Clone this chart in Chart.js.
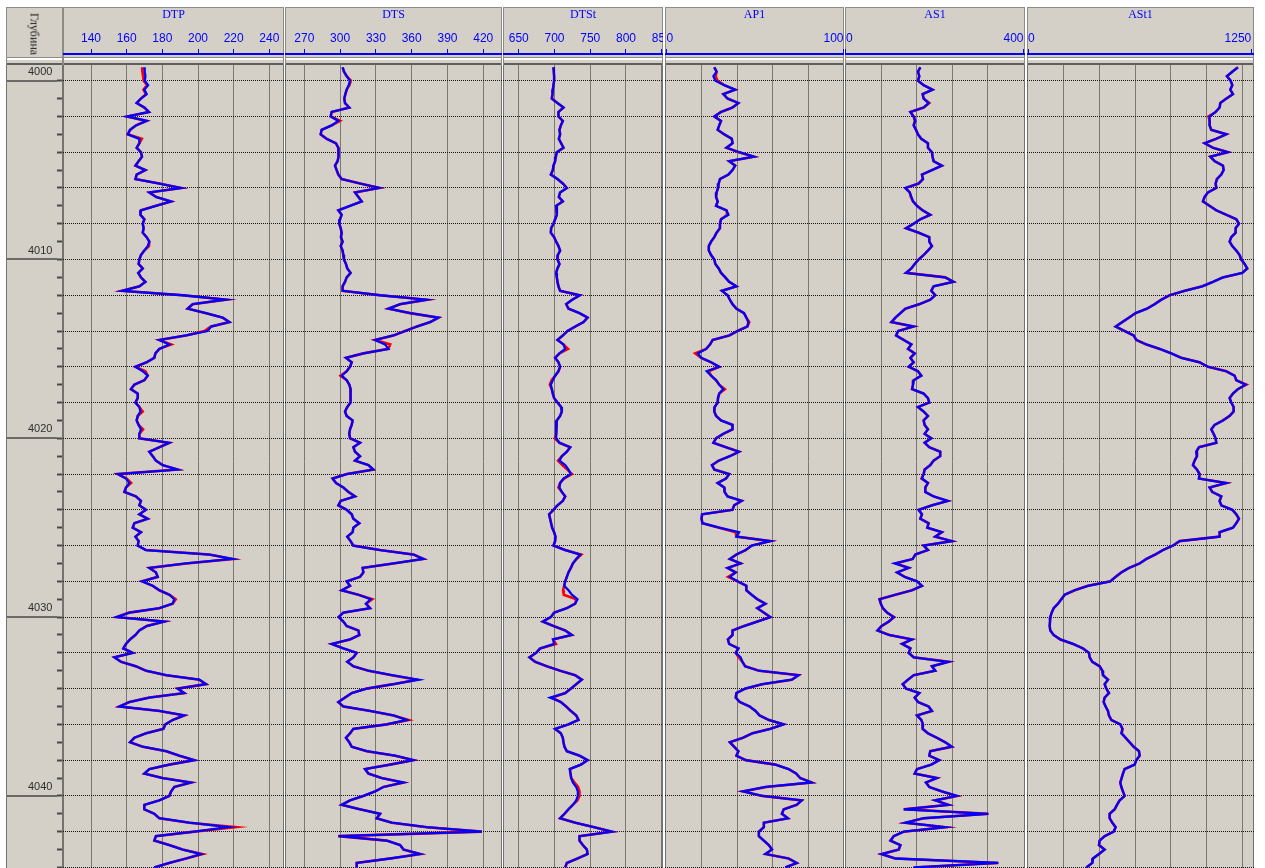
<!DOCTYPE html>
<html lang="ru">
<head>
<meta charset="utf-8">
<title>Каротаж 4000–4044 м</title>
<script src="https://cdn.jsdelivr.net/npm/chart.js@4.4.1/dist/chart.umd.min.js"></script>
<style>
  html, body { margin: 0; padding: 0; background: #ffffff; }
  #log { position: relative; width: 1265px; height: 868px; overflow: hidden; background: #ffffff; }
  .head, .body, .band { position: absolute; box-sizing: border-box; }
  .head { top: 7px; height: 51px; background: #d4d0c8; border: 1px solid #8d8b86; }
  .body { top: 60px; height: 820px; background: #d4d0c8;
          border-left: 1px solid #74726d; border-right: 1px solid #74726d; }
  .band { top: 55px; height: 10px; z-index: 3;
          border-left: 1px solid #8d8b86; border-right: 1px solid #8d8b86;
          background: linear-gradient(#d4d0c8 0 2px, #8d8b86 2px 3px, #ffffff 3px 5px,
                                      #d4d0c8 5px 8px, #5f5e5a 8px 10px); }
  canvas { position: absolute; top: 0; z-index: 2; }
  #depthTitle { position: absolute; left: 34px; top: 34px; z-index: 4; white-space: nowrap;
                transform: translate(-50%, -50%) rotate(90deg);
                font: 12px 'Liberation Serif', 'DejaVu Serif', serif; color: #222; }
</style>
</head>
<body>
<div id="log"><div id="depthTitle">Глубина</div></div>
<script>
// Depth sampling of the curves (m)
const depthStart = 3999.25;
const depthStep = 0.25;
// Visible depth window of the tracks (m)
const viewTop = 3998.507;
const viewBottom = 4044.032;

// Scale ticks
const dtpTicks  = [140, 160, 180, 200, 220, 240];
const dtsTicks  = [270, 300, 330, 360, 390, 420];
const dtstTicks = [650, 700, 750, 800, 850];
const ap1Marks  = [0, 100];
const ap1Grid   = [20, 40, 60, 80];
const as1Marks  = [0, 400];
const as1Grid   = [80, 160, 240, 320];
const ast1Marks = [0, 1250];
const ast1Grid  = [200, 400, 600, 800, 1000, 1200];
const depthLabelStep = 10;
const depthTickStep = 1;
const depthGridStep = 2;

// DTP
const dtpBlue = [
  169.9, 170.1, 170.5,
  170.1, 172.0, 169.9, 171.2,  168.0, 165.6, 169.9, 172.5,  160.2, 171.2, 165.2, 161.9,  160.6, 167.1, 167.1, 165.6,
  168.0, 168.6, 166.7, 164.9,  170.5, 165.6, 164.9, 178.3,  190.5, 172.7, 176.4, 184.9,  176.4, 168.0, 167.7, 169.9,
  169.0, 169.5, 169.0, 171.2,  172.7, 171.8, 169.9, 168.0,  167.1, 166.7, 169.0, 166.5,  168.0, 170.5, 167.1, 157.4,
  191.4, 215.7, 197.0, 194.2,  204.5, 213.8, 217.6, 207.3,  205.4, 193.3, 178.3, 183.9,  178.3, 176.1, 175.5, 171.2,
  164.9, 169.0, 171.8, 169.9,  164.3, 162.4, 166.2, 166.2,  164.9, 167.1, 167.7, 166.2,  165.6, 166.7, 168.0, 167.1,
  167.1, 183.9, 178.3, 172.7,  174.6, 176.4, 180.2, 188.6,  155.0, 159.6, 161.5, 159.6,  158.7, 165.2, 168.0, 167.1,
  170.8, 167.1, 171.8, 164.3,  163.4, 168.0, 164.9, 166.7,  166.2, 170.8, 206.4, 219.4,  193.3, 172.7, 176.4, 177.4,
  168.6, 174.6, 178.3, 183.9,  186.7, 185.8, 178.3, 161.5,  154.4, 181.1, 171.2, 167.1,  164.9, 161.9, 159.6, 158.1,
  163.4, 153.1, 156.8, 165.2,  170.8, 182.1, 200.7, 204.5,  188.6, 192.3, 172.7, 161.5,  155.9, 178.3, 192.3, 185.8,
  181.7, 180.6, 170.8, 164.3,  161.9, 169.0, 182.1, 189.5,  197.9, 183.9, 172.7, 169.9,  180.2, 196.1, 186.7, 184.9,
  183.9, 178.3, 169.9, 169.9,  175.5, 178.3, 195.1, 217.0,  198.0, 176.4, 175.5, 183.9,  191.4, 201.7, 193.3, 183.9,
  175.5
];
const dtpRed = [
  168.6, 168.8, 169.2,
  169.5, 171.5, 169.4, 170.8,  168.0, 165.6, 169.9, 172.5,  160.2, 171.2, 165.2, 161.9,  160.6, 168.5, 167.1, 165.6,
  168.0, 168.6, 166.7, 164.9,  170.5, 165.6, 164.9, 178.3,  190.5, 172.7, 176.4, 184.9,  176.4, 168.0, 167.7, 169.9,
  169.0, 169.5, 169.0, 171.2,  172.7, 172.5, 169.9, 168.0,  167.1, 166.7, 169.0, 166.5,  168.0, 170.5, 167.1, 157.4,
  191.4, 215.7, 197.0, 194.2,  204.5, 213.8, 217.6, 207.3,  203.5, 193.3, 178.3, 185.0,  178.3, 176.1, 175.5, 171.2,
  164.9, 170.5, 171.8, 169.9,  164.3, 162.4, 166.2, 166.2,  164.9, 167.1, 169.0, 166.2,  165.6, 166.7, 169.2, 167.1,
  167.1, 183.9, 178.3, 172.7,  174.6, 176.4, 180.2, 188.6,  155.0, 160.0, 162.5, 159.6,  158.7, 165.2, 168.0, 167.1,
  170.8, 167.1, 171.8, 164.3,  163.4, 168.0, 164.9, 166.7,  166.2, 170.8, 206.4, 219.4,  193.3, 172.7, 176.4, 177.4,
  168.6, 174.6, 178.3, 183.9,  187.5, 185.8, 178.3, 161.5,  154.4, 181.1, 171.2, 167.1,  164.9, 161.9, 159.6, 158.1,
  163.4, 153.1, 156.8, 165.2,  170.8, 182.1, 200.7, 204.5,  188.6, 192.3, 172.7, 161.5,  155.9, 178.3, 192.3, 185.8,
  181.7, 180.6, 170.8, 164.3,  161.9, 169.0, 182.1, 189.5,  197.9, 183.9, 172.7, 169.9,  180.2, 196.1, 186.7, 184.9,
  183.9, 178.3, 169.9, 169.9,  175.5, 178.3, 195.1, 221.0,  198.0, 176.4, 175.5, 183.9,  191.4, 202.5, 193.3, 183.9,
  175.5
];

// DTS
const dtsBlue = [
  302.1, 303.3, 305.5,
  308.3, 307.2, 305.5, 304.4,  303.5, 304.1, 307.7, 292.9,  292.1, 298.5, 292.9, 284.5,  283.7, 288.7, 296.5, 298.5,
  298.8, 298.5, 297.9, 295.7,  297.1, 298.5, 301.3, 316.7,  332.9, 312.5, 315.3, 318.1,  308.3, 298.5, 301.3, 299.9,
  299.3, 300.5, 301.3, 300.7,  302.1, 300.5, 302.1, 302.7,  303.2, 304.9, 306.0, 308.8,  305.5, 304.1, 302.1, 302.1,
  333.5, 372.7, 350.3, 340.5,  358.7, 382.5, 375.5, 364.3,  354.5, 344.7, 329.3, 337.7,  340.5, 319.5, 304.9, 309.7,
  308.3, 305.5, 301.3, 305.5,  307.7, 308.8, 309.1, 308.3,  308.8, 306.0, 304.1, 305.5,  310.5, 309.7, 308.3, 307.7,
  308.3, 316.7, 311.1, 312.5,  316.7, 312.5, 323.7, 327.9,  305.5, 293.7, 296.5, 302.7,  306.9, 312.5, 300.5, 298.5,
  305.5, 309.7, 311.1, 316.1,  311.1, 310.5, 306.0, 308.8,  311.1, 333.5, 361.5, 369.9,  344.7, 318.9, 319.5, 316.7,
  305.5, 308.3, 301.3, 315.3,  325.6, 321.7, 325.1, 302.7,  298.8, 302.7, 305.5, 315.3,  316.1, 308.3, 292.9, 302.7,
  313.9, 311.1, 306.0, 311.1,  323.7, 343.3, 365.7, 344.7,  322.3, 309.7, 304.1, 298.5,  302.7, 325.1, 344.7, 355.9,
  339.1, 311.1, 308.3, 304.9,  307.7, 309.7, 322.3, 346.1,  361.5, 341.9, 320.9, 323.7,  334.9, 353.1, 336.3, 329.3,
  319.5, 308.3, 301.3, 316.7,  333.5, 330.7, 343.3, 372.7,  418.8, 298.5, 339.1, 350.3,  353.1, 367.1, 341.9, 313.9,
  313.9
];
const dtsRed = [
  302.1, 303.3, 305.5,
  309.0, 307.8, 305.5, 304.4,  303.5, 304.1, 307.7, 292.9,  292.1, 300.0, 292.9, 284.5,  283.7, 288.7, 296.5, 298.5,
  298.8, 298.5, 297.9, 295.7,  297.1, 298.5, 301.3, 316.7,  332.9, 312.5, 315.3, 318.1,  308.3, 298.5, 301.3, 299.9,
  299.3, 300.5, 301.3, 300.7,  302.1, 300.5, 302.1, 302.7,  303.2, 304.9, 306.0, 308.8,  305.5, 304.1, 302.1, 302.1,
  333.5, 372.7, 350.3, 340.5,  358.7, 382.5, 375.5, 364.3,  354.5, 344.7, 329.3, 342.0,  340.5, 319.5, 304.9, 309.7,
  308.3, 305.5, 300.3, 305.5,  307.7, 308.8, 309.1, 308.3,  308.8, 306.0, 304.1, 305.5,  310.5, 309.7, 308.3, 307.7,
  308.3, 316.7, 311.1, 312.5,  316.7, 312.5, 323.7, 327.9,  305.5, 293.7, 296.5, 302.7,  306.9, 312.5, 300.5, 298.5,
  305.5, 309.7, 311.1, 316.1,  311.1, 310.5, 306.0, 308.8,  311.1, 333.5, 361.5, 369.9,  344.7, 318.9, 319.5, 316.7,
  305.5, 308.3, 301.3, 315.3,  327.0, 321.7, 325.1, 302.7,  298.8, 302.7, 305.5, 315.3,  316.1, 308.3, 292.9, 302.7,
  313.9, 311.1, 306.0, 311.1,  323.7, 343.3, 364.0, 344.7,  322.3, 309.7, 304.1, 298.5,  302.7, 325.1, 344.7, 357.5,
  339.1, 311.1, 308.3, 304.9,  307.7, 309.7, 322.3, 346.1,  361.5, 341.9, 320.9, 323.7,  334.9, 353.1, 336.3, 329.3,
  319.5, 308.3, 301.3, 316.7,  333.5, 330.7, 343.3, 372.7,  418.8, 298.5, 339.1, 350.3,  353.1, 367.1, 341.9, 313.9,
  313.9
];

// DTSt
const dtstBlue = [
  698.6, 699.1, 699.5,
  699.5, 698.6, 697.7, 697.2,  696.3, 704.2, 712.6, 705.6,  705.6, 711.7, 708.9, 707.0,  707.9, 706.1, 709.3, 712.6,
  703.3, 701.9, 700.9, 698.6,  697.7, 694.9, 704.2, 711.7,  717.3, 707.9, 706.1, 711.7,  702.3, 703.3, 703.3, 700.9,
  698.6, 695.3, 694.9, 699.5,  702.3, 705.6, 707.9, 704.7,  704.2, 707.0, 704.2, 702.3,  703.3, 704.2, 705.6, 707.9,
  735.5, 724.8, 716.4, 719.6,  735.0, 746.3, 740.7, 729.0,  718.2, 711.7, 704.2, 712.6,  714.9, 707.0, 700.9, 705.6,
  707.9, 705.6, 700.9, 697.7,  694.9, 696.3, 697.7, 699.5,  704.2, 709.3, 710.3, 707.9,  703.3, 702.3, 702.3, 702.3,
  702.3, 707.0, 722.0, 717.3,  710.3, 707.0, 715.0, 719.6,  722.9, 712.6, 707.9, 707.0,  710.3, 715.0, 711.7, 704.2,
  698.6, 692.5, 693.9, 695.3,  696.7, 699.5, 701.4, 700.9,  698.6, 715.0, 736.0, 730.4,  725.7, 722.9, 719.6, 717.3,
  715.0, 713.6, 719.6, 724.3,  732.2, 728.9, 717.3, 699.5,  694.9, 683.6, 698.6, 715.0,  724.3, 698.1, 699.5, 679.9,
  674.3, 665.0, 672.9, 689.3,  708.0, 729.0, 738.3, 730.4,  722.9, 715.0, 693.9, 708.9,  716.4, 722.9, 730.4, 733.6,
  719.6, 700.9, 708.9, 711.7,  712.6, 714.0, 717.3, 735.0,  746.3, 736.9, 721.5, 722.4,  723.4, 725.7, 730.4, 732.7,
  732.7, 730.4, 725.7, 719.6,  714.0, 707.9, 729.0, 754.7,  780.4, 735.0, 735.0, 739.7,  745.3, 746.3, 732.2, 717.3,
  715.0
];
const dtstRed = [
  698.6, 699.1, 699.5,
  699.5, 698.6, 697.7, 697.2,  696.3, 704.2, 712.6, 705.6,  705.6, 711.7, 708.9, 707.0,  707.9, 706.1, 709.3, 712.6,
  703.3, 701.9, 700.9, 698.6,  697.7, 694.9, 704.2, 711.7,  717.3, 707.9, 706.1, 711.7,  702.3, 703.3, 703.3, 700.9,
  698.6, 695.3, 694.9, 699.5,  702.3, 705.6, 707.9, 704.7,  704.2, 707.0, 704.2, 702.3,  703.3, 704.2, 705.6, 707.9,
  735.5, 724.8, 716.4, 719.6,  735.0, 746.3, 740.7, 729.0,  718.2, 711.7, 704.2, 712.6,  719.0, 707.0, 700.9, 705.6,
  707.9, 705.6, 700.9, 696.0,  693.5, 696.3, 697.7, 699.5,  704.2, 709.3, 710.3, 707.9,  703.3, 702.3, 702.3, 702.3,
  700.5, 707.0, 722.0, 717.3,  710.3, 705.0, 711.0, 718.0,  724.5, 713.5, 707.9, 705.5,  710.3, 715.0, 711.7, 704.2,
  698.6, 692.5, 693.9, 695.3,  696.7, 699.5, 701.4, 700.9,  698.6, 715.0, 737.5, 731.0,  725.7, 722.9, 719.6, 717.3,
  715.0, 713.6, 712.0, 713.0,  730.5, 728.9, 717.3, 699.5,  694.9, 683.6, 698.6, 715.0,  724.3, 698.1, 702.0, 679.9,
  674.3, 665.0, 672.9, 689.3,  708.0, 729.0, 738.3, 730.4,  722.9, 715.0, 697.0, 708.9,  716.4, 722.9, 730.4, 733.6,
  719.6, 700.9, 708.9, 711.7,  712.6, 714.0, 717.3, 735.0,  746.3, 736.9, 721.5, 722.4,  723.4, 728.0, 733.0, 735.0,
  735.0, 732.0, 725.7, 719.6,  714.0, 707.9, 729.0, 756.0,  780.4, 735.0, 735.0, 739.7,  745.3, 746.3, 732.2, 717.3,
  715.0
];

// AP1
const ap1Blue = [
  27.0, 28.3, 26.5,
  27.6, 32.6, 38.8, 32.1,  34.5, 40.6, 37.3, 30.8,  27.0, 30.8, 29.8, 28.9,  32.6, 36.9, 37.3, 33.9,
  41.0, 49.4, 35.4, 38.8,  37.3, 35.0, 30.2, 29.5,  29.1, 28.3, 28.0, 28.9,  28.0, 33.9, 35.0, 30.8,
  30.2, 30.2, 28.3, 27.0,  25.2, 23.9, 23.9, 25.2,  27.0, 27.6, 29.5, 30.8,  33.2, 35.4, 39.5, 31.3,
  34.5, 35.8, 37.3, 39.5,  43.8, 45.1, 46.2, 45.7,  40.1, 35.4, 26.1, 24.6,  22.4, 17.7, 19.6, 25.2,
  29.8, 22.7, 25.2, 28.0,  29.8, 32.1, 29.8, 29.1,  28.9, 27.2, 27.0, 28.0,  30.8, 37.3, 37.3, 32.1,
  28.0, 26.5, 33.6, 41.0,  35.8, 29.5, 25.7, 27.0,  35.4, 33.6, 28.9, 32.6,  32.8, 34.5, 42.5, 38.2,
  37.3, 20.1, 19.8, 20.3,  29.8, 41.0, 39.5, 58.7,  48.1, 44.7, 39.5, 35.8,  41.9, 34.5, 39.1, 35.8,
  40.1, 45.1, 45.1, 48.1,  51.3, 55.9, 51.3, 55.0,  58.7, 51.3, 43.8, 37.3,  37.3, 34.7, 35.4, 40.6,
  39.1, 41.9, 42.9, 44.4,  52.2, 74.6, 70.8, 54.1,  44.4, 39.5, 39.1, 41.4,  47.0, 50.3, 52.6, 57.8,
  66.2, 58.7, 48.5, 43.2,  35.8, 38.2, 40.6, 39.5,  44.7, 61.5, 69.0, 73.3,  75.5, 82.0, 55.9, 43.2,
  54.1, 76.4, 73.6, 66.2,  65.2, 68.6, 55.0, 55.0,  52.2, 52.2, 55.0, 57.8,  59.6, 55.9, 69.0, 73.6,
  67.1
];
const ap1Red = [
  27.0, 28.3, 27.8,
  28.8, 32.6, 38.8, 32.1,  34.5, 40.6, 37.3, 30.8,  27.0, 30.8, 29.8, 28.9,  32.6, 36.9, 37.3, 33.9,
  41.0, 49.4, 35.4, 38.8,  37.3, 35.0, 30.2, 29.5,  29.1, 28.3, 28.0, 28.9,  28.0, 33.9, 34.3, 30.8,
  30.2, 30.2, 28.3, 27.0,  25.2, 23.9, 23.9, 25.2,  27.0, 27.6, 29.5, 30.8,  33.2, 35.4, 39.5, 31.3,
  34.5, 35.8, 37.3, 39.5,  43.8, 45.1, 46.8, 45.7,  40.1, 35.4, 26.1, 24.6,  22.4, 16.2, 19.6, 25.2,
  29.8, 23.8, 25.2, 28.0,  29.8, 33.0, 29.8, 29.1,  28.9, 27.2, 27.0, 28.0,  30.8, 37.3, 37.3, 32.1,
  28.0, 26.5, 33.6, 41.0,  35.8, 29.5, 25.7, 27.0,  35.4, 33.6, 28.9, 32.6,  32.8, 34.5, 42.5, 38.2,
  37.3, 20.1, 19.8, 20.3,  29.8, 39.0, 39.5, 58.7,  48.1, 44.7, 39.5, 35.8,  41.9, 34.5, 39.1, 34.8,
  40.1, 45.1, 45.1, 48.1,  51.3, 55.9, 51.3, 55.0,  58.7, 51.3, 43.8, 37.3,  37.3, 34.7, 35.4, 40.6,
  39.1, 40.8, 42.9, 44.4,  52.2, 74.6, 70.8, 54.1,  44.4, 39.5, 39.1, 41.4,  47.0, 50.3, 52.6, 57.8,
  66.2, 58.7, 48.5, 43.2,  35.8, 38.2, 40.6, 39.5,  44.7, 61.5, 69.0, 73.3,  75.5, 82.0, 56.6, 43.2,
  54.1, 76.4, 73.6, 66.2,  65.2, 68.6, 55.0, 55.0,  52.2, 52.2, 55.0, 57.8,  59.6, 55.9, 69.0, 73.6,
  67.1
];

// AS1
const as1Blue = [
  167.5, 162.2, 165.2,
  162.2, 175.0, 195.1, 172.7,  175.0, 186.2, 175.0, 145.1,  152.5, 156.3, 152.5, 157.8,  162.2, 169.7, 184.7, 184.7,
  193.7, 195.1, 197.4, 216.1,  193.7, 171.2, 173.5, 163.7,  133.8, 143.6, 147.3, 151.0,  160.0, 172.7, 189.9, 167.5,
  152.5, 135.3, 163.7, 187.7,  187.7, 193.7, 184.7, 175.0,  163.7, 154.8, 147.3, 135.3,  223.6, 242.3, 197.4, 192.2,
  201.1, 189.9, 165.2, 133.8,  122.6, 111.4, 102.4, 152.5,  117.4, 112.9, 130.1, 147.3,  139.8, 154.8, 145.1, 152.5,
  141.3, 162.2, 169.7, 152.5,  151.0, 148.8, 175.0, 184.7,  187.7, 162.2, 175.0, 184.7,  175.0, 177.2, 184.7, 177.2,
  192.2, 177.2, 187.7, 212.3,  212.3, 197.4, 189.9, 177.2,  175.0, 171.2, 184.7, 178.7,  178.7, 197.4, 229.5, 193.7,
  163.7, 171.2, 167.5, 186.2,  183.2, 216.1, 201.1, 238.5,  174.9, 184.7, 156.3, 150.3,  109.9, 141.3, 115.2, 132.3,
  160.0, 171.2, 148.8, 111.4,   75.5,  78.5,  83.0,  92.7,  107.7,  96.4,  80.0,  71.0,   96.4, 148.8, 126.3, 145.1,
  141.3, 152.5, 231.0, 193.7,  201.1, 152.5, 139.8, 127.8,  135.3, 165.2, 154.8, 162.2,  186.2, 193.7, 160.0, 169.7,
  173.5, 172.7, 184.7, 204.9,  223.6, 238.5, 189.9, 187.7,  210.1, 192.2, 160.0, 154.8,  204.9, 180.2, 187.7, 216.1,
  249.7, 201.1, 231.0, 130.1,  320.8, 175.0, 133.8, 223.6,  130.1, 107.7, 100.2, 122.6,  118.9,  80.0, 111.4, 343.2,
  152.5
];
const as1Red = [
  167.5, 162.2, 165.2,
  162.2, 175.0, 195.1, 172.7,  175.0, 187.7, 175.0, 145.1,  152.5, 155.0, 152.5, 157.8,  162.2, 169.7, 184.7, 184.7,
  193.7, 195.1, 197.4, 216.1,  193.7, 171.2, 173.5, 163.7,  133.8, 143.6, 146.0, 151.0,  160.0, 172.7, 189.9, 167.5,
  152.5, 135.3, 163.7, 187.7,  187.7, 193.7, 184.7, 175.0,  163.7, 154.8, 147.3, 135.3,  223.6, 242.3, 197.4, 192.2,
  201.1, 189.9, 165.2, 133.8,  122.6, 111.4, 102.4, 152.5,  117.4, 112.9, 130.1, 147.3,  139.8, 154.8, 145.1, 152.5,
  141.3, 162.2, 169.7, 152.5,  151.0, 148.8, 175.0, 184.7,  187.7, 162.2, 175.0, 184.7,  175.0, 177.2, 184.7, 177.2,
  192.2, 177.2, 187.7, 212.3,  212.3, 197.4, 189.9, 177.2,  175.0, 170.0, 184.7, 178.7,  178.7, 197.4, 229.5, 193.7,
  163.7, 171.2, 167.5, 186.2,  183.2, 216.1, 201.1, 238.5,  174.9, 184.7, 156.3, 150.3,  112.0, 141.3, 115.2, 132.3,
  160.0, 171.2, 148.8, 111.4,   75.5,  78.5,  83.0,  92.7,  108.5,  96.4,  80.0,  71.0,   98.0, 148.8, 126.3, 145.1,
  141.3, 152.5, 231.0, 193.7,  201.1, 152.5, 139.8, 127.8,  135.3, 165.2, 154.8, 162.2,  186.2, 193.7, 160.0, 169.7,
  173.5, 172.7, 184.7, 204.9,  223.6, 238.5, 189.9, 187.7,  210.1, 192.2, 160.0, 154.8,  204.9, 180.2, 187.7, 216.1,
  249.7, 201.1, 231.0, 130.1,  320.8, 175.0, 133.8, 223.6,  130.1, 107.7, 100.2, 122.6,  118.9,  80.0, 111.4, 343.2,
  152.5
];

// ASt1
const ast1Blue = [
  1175.6, 1143.9, 1114.0,
  1134.5, 1143.9, 1132.7, 1147.6,  1110.3, 1076.7, 1073.0, 1050.6,  1017.0, 1017.0, 1017.0, 1026.3,  1110.3, 1054.3,  989.0, 1035.6,
  1119.6, 1020.7, 1045.0, 1091.6,  1095.3, 1082.3, 1058.0, 1050.6,  1054.3, 1007.6,  989.0,  979.7,  1017.0, 1054.3, 1110.3, 1166.3,
  1181.2, 1162.5, 1162.5, 1138.3,  1129.0, 1143.9, 1166.3, 1184.9,  1194.2, 1212.9, 1227.8, 1199.8,  1091.6, 1035.6,  975.9,  877.0,
   793.0,  746.4,  709.1,  666.2,   602.7,  565.4,  528.1,  490.8,   541.1,  591.5,  606.5,  662.4,   737.1,  802.4,  858.4,  961.0,
  1007.6, 1110.3, 1157.0, 1166.3,  1218.5, 1175.6, 1147.6, 1129.0,  1138.3, 1151.4, 1151.4, 1129.0,  1091.6, 1045.0, 1026.3, 1039.3,
  1050.6, 1054.3,  957.3,  942.3,   946.1,  933.0,  923.7,  946.1,   961.0,  957.3, 1110.3, 1017.0,  1031.9, 1082.3, 1073.0, 1082.3,
  1143.9, 1166.3, 1181.2, 1166.3,  1147.6, 1073.0, 1073.0,  849.0,   811.7,  755.7,  712.8,  662.4,   625.1,  565.4,  522.5,  490.8,
   460.9,  335.9,  261.2,  205.3,   186.6,  167.9,  143.7,  132.5,   125.0,  123.2,  121.3,  125.0,   143.7,  181.0,  251.9,  307.9,
   341.5,  345.2,  360.1,  401.2,   416.1,  419.9,  447.8,  429.2,   438.5,  453.4,  429.2,  423.6,   434.8,  447.8,  453.4,  466.5,
   516.9,  528.1,  522.5,  546.7,   569.1,  591.5,  621.4,  625.1,   606.5,  597.1,  541.1,  531.8,   524.3,  516.9,  522.5,  531.8,
   541.1,  513.2,  498.2,  485.2,   457.2,  457.2,  472.1,  490.8,   479.6,  429.2,  401.2,  397.5,   429.2,  397.5,  363.9,  360.1,
   326.6
];
const ast1Red = [
  1175.6, 1143.9, 1114.0,
  1134.5, 1143.9, 1132.7, 1147.6,  1110.3, 1076.7, 1073.0, 1050.6,  1011.0, 1017.0, 1017.0, 1026.3,  1110.3, 1054.3,  989.0, 1035.6,
  1119.6, 1020.7, 1045.0, 1091.6,  1095.3, 1082.3, 1058.0, 1050.6,  1054.3, 1007.6,  989.0,  979.7,  1017.0, 1054.3, 1110.3, 1166.3,
  1181.2, 1162.5, 1162.5, 1138.3,  1129.0, 1143.9, 1166.3, 1184.9,  1194.2, 1212.9, 1227.8, 1199.8,  1091.6, 1035.6,  975.9,  877.0,
   793.0,  746.4,  709.1,  666.2,   602.7,  565.4,  528.1,  490.8,   541.1,  591.5,  606.5,  662.4,   737.1,  802.4,  858.4,  961.0,
  1007.6, 1110.3, 1157.0, 1166.3,  1223.0, 1175.6, 1147.6, 1129.0,  1138.3, 1151.4, 1151.4, 1129.0,  1091.6, 1045.0, 1026.3, 1039.3,
  1050.6, 1054.3,  957.3,  942.3,   946.1,  933.0,  923.7,  946.1,   961.0,  957.3, 1110.3, 1017.0,  1031.9, 1082.3, 1073.0, 1082.3,
  1143.9, 1166.3, 1181.2, 1166.3,  1147.6, 1073.0, 1073.0,  849.0,   811.7,  755.7,  712.8,  662.4,   625.1,  565.4,  522.5,  490.8,
   460.9,  335.9,  261.2,  205.3,   186.6,  167.9,  143.7,  132.5,   125.0,  123.2,  121.3,  125.0,   143.7,  181.0,  251.9,  307.9,
   341.5,  345.2,  360.1,  401.2,   416.1,  419.9,  447.8,  429.2,   438.5,  453.4,  429.2,  423.6,   434.8,  447.8,  453.4,  466.5,
   516.9,  530.0,  525.0,  546.7,   569.1,  591.5,  621.4,  625.1,   606.5,  597.1,  541.1,  531.8,   524.3,  516.9,  522.5,  531.8,
   541.1,  513.2,  498.2,  485.2,   457.2,  457.2,  472.1,  490.8,   479.6,  429.2,  401.2,  397.5,   429.2,  397.5,  363.9,  360.1,
   326.6
];

// ---------------------------------------------------------------------------
const depth = dtpBlue.map((_, i) => depthStart + i * depthStep);
const points = vals => vals.map((v, i) => ({ x: v, y: depth[i] }));

const CLEAR = 'rgba(0,0,0,0)';
const BLUE = '#0000ff';
const RED = '#ff0000';
const GRID_V = '#7a7873';
const GRID_H = '#161616';
const tickFont = { family: "'Liberation Sans Narrow', 'Liberation Sans', Arial, sans-serif", size: 12 };
const titleFont = { family: "'Liberation Serif', 'DejaVu Serif', serif", size: 12 };

const TRACKS = [
  { name: 'DTP',  left: 63,   width: 221, min: 124.3, max: 248.2,  marks: dtpTicks,  grid: dtpTicks,  blue: dtpBlue,  red: dtpRed },
  { name: 'DTS',  left: 285,  width: 217, min: 253.8, max: 435.7,  marks: dtsTicks,  grid: dtsTicks,  blue: dtsBlue,  red: dtsRed },
  { name: 'DTSt', left: 503,  width: 160, min: 628.0, max: 851.8,  marks: dtstTicks, grid: dtstTicks, blue: dtstBlue, red: dtstRed },
  { name: 'AP1',  left: 665,  width: 179, min: -0.85, max: 100.28, marks: ap1Marks,  grid: ap1Grid,   blue: ap1Blue,  red: ap1Red,  inner: true },
  { name: 'AS1',  left: 845,  width: 180, min: -2.25, max: 403.4,  marks: as1Marks,  grid: as1Grid,   blue: as1Blue,  red: as1Red,  inner: true },
  { name: 'ASt1', left: 1027, width: 227, min: -5.6,  max: 1265.5, marks: ast1Marks, grid: ast1Grid,  blue: ast1Blue, red: ast1Red, inner: true },
];
const DEPTH_TRACK = { left: 6, width: 57 };

const root = document.getElementById('log');
function addBox(cls, left, width) {
  const d = document.createElement('div');
  d.className = cls;
  d.style.left = left + 'px';
  d.style.width = width + 'px';
  root.appendChild(d);
  return d;
}
function addCanvas(left, width) {
  const c = document.createElement('canvas');
  c.width = width; c.height = 868;
  c.style.left = left + 'px';
  c.style.width = width + 'px'; c.style.height = '868px';
  root.appendChild(c);
  return c;
}
[DEPTH_TRACK, ...TRACKS].forEach(t => {
  addBox('head', t.left, t.width);
  addBox('body', t.left, t.width);
  addBox('band', t.left, t.width);
});

const baseOptions = {
  responsive: false,
  animation: false,
  events: [],
  plugins: { legend: { display: false }, tooltip: { enabled: false } },
};

// Depth track: labels every 10 m, marks every 1 m
new Chart(addCanvas(DEPTH_TRACK.left, DEPTH_TRACK.width), {
  type: 'scatter',
  data: { datasets: [] },
  options: {
    ...baseOptions,
    layout: { padding: { top: 54, left: 1, right: 1, bottom: 0 } },
    scales: {
      x: { display: false, min: 0, max: 1 },
      yLabel: {
        type: 'linear', position: 'left', reverse: true, min: viewTop, max: viewBottom,
        afterFit: s => { s.width = 0; s.paddingTop = 0; s.paddingBottom = 0; },
        ticks: { stepSize: depthLabelStep, includeBounds: false, mirror: true, padding: 21,
                 crossAlign: 'near', labelOffset: -9, color: '#2e2e2e',
                 callback: v => String(v),
                 font: { family: "'Liberation Sans', Arial, sans-serif", size: 11 } },
        grid: { color: '#6c6a66', lineWidth: 2, drawTicks: false },
        border: { display: false },
      },
      yMark: {
        type: 'linear', position: 'right', reverse: true, min: viewTop, max: viewBottom,
        afterFit: s => { s.width = 5; s.paddingTop = 0; s.paddingBottom = 0; },
        ticks: { display: false, stepSize: depthTickStep, includeBounds: false },
        grid: { drawOnChartArea: false, drawTicks: true, tickLength: 5, tickWidth: 2, tickColor: '#4a4946' },
        border: { display: false },
      },
    },
  },
});

// Log tracks
TRACKS.forEach(t => {
  const tickValues = [...new Set([...t.marks, ...t.grid])].sort((a, b) => a - b);
  new Chart(addCanvas(t.left, t.width), {
    type: 'scatter',
    data: {
      datasets: [
        { label: t.name + ' 2', data: points(t.blue), showLine: true, borderColor: BLUE,
          borderWidth: 2.3, pointRadius: 0, tension: 0 },
        { label: t.name + ' 1', data: points(t.red), showLine: true, borderColor: RED,
          borderWidth: 2.6, pointRadius: 0, tension: 0 },
      ],
    },
    options: {
      ...baseOptions,
      layout: { padding: 0 },
      scales: {
        x: {
          type: 'linear', position: 'top', min: t.min, max: t.max,
          afterBuildTicks: s => { s.ticks = tickValues.map(v => ({ value: v })); },
          afterFit: s => { s.height = 54; s.paddingLeft = 0; s.paddingRight = 0; },
          title: { display: true, text: t.name, color: BLUE, font: titleFont, padding: { top: 8, bottom: 0 } },
          ticks: { color: BLUE, font: tickFont, padding: 3, autoSkip: false, maxRotation: 0,
                   align: t.inner ? 'inner' : 'center',
                   callback: v => (t.marks.includes(v) ? String(v) : '') },
          grid: {
            color: c => (c.tick && t.grid.includes(c.tick.value) ? GRID_V : CLEAR),
            lineWidth: 1, tickLength: 5, tickWidth: 1,
            tickColor: c => (c.tick && t.marks.includes(c.tick.value) ? BLUE : CLEAR),
          },
          border: { display: true, color: BLUE, width: 2 },
        },
        y: {
          type: 'linear', position: 'left', reverse: true, min: viewTop, max: viewBottom,
          afterFit: s => { s.width = 0; s.paddingTop = 0; s.paddingBottom = 0; },
          ticks: { display: false, stepSize: depthGridStep, includeBounds: false },
          grid: { color: GRID_H, lineWidth: 1, drawTicks: false },
          border: { display: false, dash: [1, 1] },
        },
      },
    },
  });
});
</script>
</body>
</html>
